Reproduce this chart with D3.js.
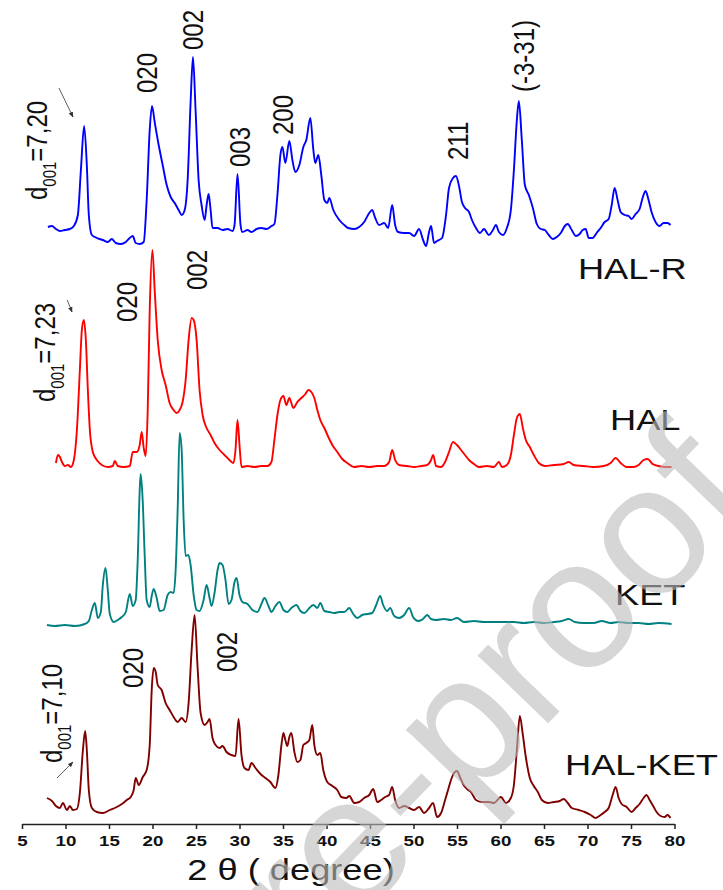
<!DOCTYPE html>
<html>
<head>
<meta charset="utf-8">
<script src="https://cdn.jsdelivr.net/npm/d3@7"></script>
<style>
  body { margin: 0; background: #fff; }
  text { font-family: "Liberation Sans", Arial, sans-serif; }
</style>
</head>
<body>
<div id="chart"></div>
<script>
// XRD patterns, 2θ vs intensity (a.u.), curves stacked with offsets
const thetaTicks = d3.range(5, 81, 5);
const seriesNames = ['HAL-R', 'HAL', 'KET', 'HAL-KET'];
const seriesOffsets = [593, 356, 198, 13];

// [2θ, intensity above own baseline]
const halR = [[7.98,3],[8.44,4],[8.9,1],[9.36,-1],[9.93,0],[10.5,1],[10.96,4],[11.42,15],[11.77,60],[12.14,104],[12.45,65],[12.68,15],[13.03,-5],[13.6,-8],[14.29,-10],[14.86,-12],[15.32,-9],[15.78,-13],[16.35,-14],[16.93,-12],[17.38,-8],[17.73,-6],[18.07,-13],[18.53,-14],[18.99,-12],[19.33,30],[19.68,100],[19.94,124],[20.25,108],[20.71,85],[21.17,65],[21.63,45],[22.09,33],[22.55,27],[23.0,20],[23.35,15],[23.7,20],[24.04,50],[24.39,130],[24.65,173],[24.95,120],[25.3,50],[25.64,25],[25.99,10],[26.22,25],[26.45,36],[26.68,20],[26.9,2],[27.48,2],[28.05,0],[28.62,1],[29.2,-1],[29.43,5],[29.77,56],[30.12,5],[30.34,-2],[30.92,0],[31.38,-2],[31.95,1],[32.52,2],[33.1,1],[33.67,4],[34.01,6],[34.36,35],[34.7,75],[34.93,83],[35.27,67],[35.73,89],[36.08,70],[36.42,58],[36.88,65],[37.34,83],[37.68,90],[38.14,112],[38.49,80],[38.71,67],[39.06,75],[39.4,55],[39.75,30],[40.09,27],[40.32,32],[40.78,20],[41.47,10],[42.04,5],[42.5,2],[43.19,1],[43.76,3],[44.33,8],[44.91,17],[45.25,20],[45.6,12],[46.05,5],[46.63,7],[47.09,2],[47.55,25],[47.89,5],[48.23,-2],[48.92,-3],[49.5,-3],[50.07,-6],[50.64,1],[51.1,-10],[51.45,-16],[51.79,-2],[52.02,4],[52.36,-13],[52.71,-11],[53.28,-8],[53.74,15],[54.08,42],[54.54,52],[54.88,54],[55.23,44],[55.57,28],[55.92,22],[56.38,18],[56.72,10],[57.18,2],[57.64,-3],[58.1,1],[58.67,-5],[59.13,0],[59.47,5],[59.82,-2],[60.28,-5],[60.73,2],[61.19,20],[61.54,60],[61.88,110],[62.11,129],[62.45,90],[62.8,45],[63.26,35],[63.72,22],[64.17,6],[64.63,1],[65.09,0],[65.55,-5],[66.0,-9],[66.47,-7],[66.93,-3],[67.39,4],[67.73,6],[68.19,0],[68.65,-6],[69.1,-4],[69.45,0],[69.79,1],[70.14,-8],[70.6,-8],[71.05,-3],[71.51,2],[71.97,8],[72.43,11],[72.78,25],[73.12,42],[73.46,30],[73.81,18],[74.27,15],[74.73,14],[75.07,11],[75.53,16],[75.99,21],[76.33,32],[76.68,39],[77.02,30],[77.36,18],[77.82,8],[78.28,4],[78.74,7],[79.2,7],[79.54,5]];

const hal = [[8.9,4],[9.13,12],[9.36,10],[9.59,5],[9.93,1],[10.28,2],[10.62,0],[10.96,7],[11.31,37],[11.65,97],[11.88,137],[12.11,147],[12.34,127],[12.57,77],[12.8,37],[13.14,15],[13.6,7],[14.17,2],[14.86,0],[15.44,1],[15.67,6],[16.01,1],[16.7,0],[17.39,1],[17.73,15],[18.19,15],[18.53,22],[18.76,35],[18.99,19],[19.22,11],[19.45,57],[19.68,157],[19.99,217],[20.25,177],[20.6,127],[21.05,97],[21.51,82],[21.97,64],[22.43,57],[22.77,54],[23.12,57],[23.46,65],[23.81,87],[24.15,127],[24.5,149],[24.73,147],[25.07,127],[25.41,77],[25.76,52],[26.22,39],[26.68,32],[27.13,24],[27.71,17],[28.28,12],[28.85,7],[29.31,4],[29.54,17],[29.77,47],[30.0,22],[30.23,0],[30.92,1],[31.72,0],[32.52,1],[33.21,1],[33.67,5],[34.01,27],[34.36,52],[34.7,67],[35.05,71],[35.39,62],[35.73,69],[36.19,59],[36.65,65],[37.11,69],[37.57,73],[37.91,77],[38.26,75],[38.6,69],[38.95,57],[39.29,47],[39.75,39],[40.21,30],[40.67,22],[41.24,15],[41.81,8],[42.39,4],[43.19,0],[43.99,1],[44.91,0],[45.83,1],[46.63,1],[47.2,5],[47.55,17],[47.89,7],[48.35,2],[49.27,1],[50.07,0],[50.87,1],[51.56,2],[52.02,7],[52.25,12],[52.6,1],[53.17,0],[53.63,5],[54.08,15],[54.54,25],[55.0,22],[55.46,17],[55.92,12],[56.38,7],[56.95,3],[57.52,0],[58.44,1],[59.24,0],[59.82,5],[60.16,0],[60.73,2],[61.19,12],[61.54,32],[61.88,49],[62.22,53],[62.57,39],[62.91,27],[63.37,20],[63.83,12],[64.4,4],[65.09,1],[66.12,2],[67.27,3],[67.84,5],[68.42,2],[69.56,1],[70.71,0],[71.86,1],[72.66,4],[73.23,9],[73.81,4],[74.5,0],[75.3,0],[75.87,2],[76.45,7],[76.91,8],[77.48,3],[78.17,1],[78.86,0],[79.66,0]];

const ket = [[7.87,0],[8.78,-1],[9.93,0],[11.08,-1],[12.22,1],[12.68,4],[13.03,15],[13.37,22],[13.72,7],[14.06,13],[14.29,40],[14.6,57],[14.86,35],[15.09,11],[15.55,3],[16.01,5],[16.47,8],[16.93,13],[17.39,31],[17.73,19],[18.07,25],[18.3,65],[18.53,135],[18.64,151],[18.87,125],[19.1,70],[19.33,25],[19.68,18],[19.91,29],[20.14,36],[20.48,27],[20.83,14],[21.28,15],[21.74,30],[22.09,33],[22.43,32],[22.66,55],[22.89,115],[23.12,192],[23.35,175],[23.58,105],[23.81,69],[24.12,70],[24.38,60],[24.73,30],[25.07,15],[25.41,14],[25.87,25],[26.22,40],[26.56,27],[26.79,19],[27.13,32],[27.48,55],[27.71,62],[28.05,60],[28.39,45],[28.74,21],[29.08,25],[29.43,43],[29.66,47],[30.0,30],[30.34,23],[30.92,21],[31.49,15],[32.06,13],[32.52,21],[32.87,27],[33.33,19],[33.67,13],[34.13,19],[34.59,23],[35.05,15],[35.5,13],[35.96,17],[36.54,20],[37.0,14],[37.45,12],[38.03,17],[38.49,20],[38.95,17],[39.29,22],[39.75,14],[40.32,13],[40.89,12],[41.47,13],[42.04,13],[42.62,17],[43.07,11],[43.53,7],[44.1,10],[44.68,11],[45.25,12],[45.71,20],[46.17,29],[46.51,20],[46.97,14],[47.32,17],[47.78,9],[48.35,7],[48.92,10],[49.5,17],[49.95,8],[50.53,4],[51.1,6],[51.56,10],[52.02,6],[52.59,5],[53.51,6],[54.31,5],[55.0,7],[55.8,3],[56.95,4],[58.1,3],[59.24,3],[60.39,3],[61.54,3],[62.68,2],[63.83,3],[64.98,2],[66.12,3],[67.04,4],[67.84,6],[68.53,3],[69.56,2],[70.71,2],[71.63,4],[72.66,2],[73.58,3],[74.73,2],[75.87,2],[77.02,1],[78.17,2],[79.66,1]];

const halKet = [[7.87,12],[8.44,9],[8.9,4],[9.36,2],[9.7,7],[10.16,0],[10.5,4],[10.85,0],[11.31,1],[11.65,17],[12.0,60],[12.26,79],[12.45,60],[12.68,20],[13.03,2],[13.6,-2],[14.29,-3],[15.09,0],[15.89,3],[16.47,6],[17.04,10],[17.5,13],[17.84,20],[18.07,32],[18.42,25],[18.88,33],[19.33,40],[19.68,65],[19.91,120],[20.14,142],[20.37,138],[20.6,125],[21.05,120],[21.51,107],[21.97,100],[22.43,93],[22.89,88],[23.35,92],[23.81,88],[24.15,107],[24.5,160],[24.84,195],[25.18,143],[25.53,97],[25.99,85],[26.33,88],[26.56,91],[26.9,72],[27.25,65],[27.71,62],[28.05,64],[28.51,58],[29.08,55],[29.54,54],[29.89,91],[30.23,55],[30.57,42],[31.03,40],[31.38,47],[31.84,42],[32.41,36],[32.98,32],[33.55,28],[34.13,22],[34.47,35],[34.82,65],[35.05,77],[35.27,70],[35.5,64],[35.73,73],[35.96,77],[36.31,58],[36.65,48],[37.0,50],[37.34,65],[37.68,67],[38.03,70],[38.37,85],[38.6,65],[38.95,55],[39.29,57],[39.63,40],[40.09,28],[40.67,24],[41.24,20],[41.7,13],[42.27,12],[42.62,14],[43.19,7],[43.76,8],[44.33,12],[44.91,15],[45.37,21],[45.83,8],[46.28,10],[46.74,13],[47.2,15],[47.55,23],[47.89,10],[48.35,2],[48.92,4],[49.5,2],[50.07,0],[50.64,3],[51.22,-3],[51.79,2],[52.25,7],[52.71,-7],[53.17,-3],[53.63,10],[53.97,20],[54.31,30],[54.66,37],[55.0,39],[55.34,33],[55.69,26],[56.15,21],[56.61,18],[57.18,10],[57.87,8],[58.67,8],[59.24,7],[60.05,13],[60.62,7],[61.19,12],[61.54,25],[61.88,60],[62.22,94],[62.57,75],[62.91,53],[63.37,32],[63.83,24],[64.29,18],[64.75,10],[65.44,7],[66.12,8],[66.81,9],[67.27,11],[67.73,7],[68.19,2],[68.99,0],[69.68,-2],[70.37,-5],[70.94,-8],[71.51,-5],[71.97,-2],[72.43,2],[72.89,15],[73.23,23],[73.58,12],[73.92,6],[74.5,3],[75.07,-2],[75.53,2],[75.99,6],[76.45,12],[76.79,15],[77.14,10],[77.48,5],[77.94,-2],[78.4,-6],[78.86,-7],[79.2,-5],[79.54,-8]];

const seriesData = [halR, hal, ket, halKet];

// peak / d-spacing annotations (2θ, stacked intensity)
const peakLabels = [
  { t: 20.52, v: 730, text: '020' }, { t: 25.8, v: 773, text: '002' },
  { t: 31.2, v: 656, text: '003' }, { t: 36.15, v: 688, text: '200' },
  { t: 56.26, v: 663, text: '211' }, { t: 63.85, v: 731, text: '(-3-31)' },
  { t: 18.22, v: 501, text: '020' }, { t: 26.26, v: 533, text: '002' },
  { t: 18.9, v: 135, text: '020' }, { t: 29.71, v: 151, text: '002' }
];
const dLabels = [
  { t: 7.87, v: 623, value: '7,20' },
  { t: 8.79, v: 421, value: '7,23' },
  { t: 9.6, v: 60, value: '7,10' }
];
const arrows = [
  { t0: 9.25, v0: 735, t1: 10.86, v1: 706 },
  { t0: 10.2, v0: 523, t1: 10.75, v1: 511 },
  { t0: 9.02, v0: 45, t1: 10.86, v1: 61 }
];
const nameLabels = [
  { t: 68.9, v: 544 }, { t: 72.59, v: 393 }, { t: 73.16, v: 218 }, { t: 67.41, v: 48 }
];

const W = 723, H = 890;
const colors = ['#0000ff', '#ff0000', '#008080', '#800000'];
const sx = 1.25; // the figure is stretched horizontally

const svg = d3.select('#chart').append('svg')
  .attr('width', W).attr('height', H);

const x = d3.scaleLinear().domain([5, 80]).range([22, 674.5]);
const y = d3.scaleLinear().domain([0, 823]).range([823, 0]);

svg.append('defs').append('marker')
  .attr('id', 'head')
  .attr('viewBox', '0 0 10 10')
  .attr('refX', 9).attr('refY', 5)
  .attr('markerWidth', 7).attr('markerHeight', 7)
  .attr('orient', 'auto')
  .append('path').attr('d', 'M0,1 L10,5 L0,9 Z').attr('fill', '#333');

// curves
seriesData.forEach((data, i) => {
  const line = d3.line()
    .x(d => x(d[0]))
    .y(d => y(seriesOffsets[i] + d[1]))
    .curve(d3.curveMonotoneX);
  svg.append('path')
    .datum(data)
    .attr('fill', 'none')
    .attr('stroke', colors[i])
    .attr('stroke-width', 1.9)
    .attr('stroke-linejoin', 'round')
    .attr('d', line);
});

// x axis
const axis = svg.append('g')
  .attr('transform', `translate(0,${y(0) + 1})`)
  .call(d3.axisBottom(x).tickValues(thetaTicks).tickSize(5).tickSizeOuter(0).tickPadding(6));
axis.select('.domain').attr('stroke', '#222').attr('stroke-width', 1.5);
axis.selectAll('.tick line').attr('stroke', '#222').attr('stroke-width', 1.5);
axis.selectAll('.tick text')
  .attr('font-family', '"Liberation Sans", Arial, sans-serif')
  .attr('font-size', 15).attr('font-weight', 'bold').attr('fill', '#111')
  .attr('transform', `scale(${sx},1)`);

svg.append('text')
  .attr('transform', `translate(291,880) scale(${sx},1)`)
  .attr('text-anchor', 'middle')
  .attr('font-size', 29).attr('fill', '#111')
  .text('2 θ ( degree)');

// rotated peak labels
peakLabels.forEach(l => {
  svg.append('text')
    .attr('transform', `translate(${x(l.t)},${y(l.v)}) scale(${sx},1) rotate(-90)`)
    .attr('font-size', 24).attr('fill', '#111')
    .text(l.text);
});

dLabels.forEach(l => {
  const t = svg.append('text')
    .attr('transform', `translate(${x(l.t)},${y(l.v)}) scale(${sx},1) rotate(-90)`)
    .attr('font-size', 24).attr('fill', '#111');
  t.append('tspan').text('d');
  t.append('tspan').attr('font-size', 15).attr('dy', 7).text('001');
  t.append('tspan').attr('dy', -7).text('=' + l.value);
});

arrows.forEach(a => {
  svg.append('line')
    .attr('x1', x(a.t0)).attr('y1', y(a.v0))
    .attr('x2', x(a.t1)).attr('y2', y(a.v1))
    .attr('stroke', '#333').attr('stroke-width', 0.8)
    .attr('marker-end', 'url(#head)');
});

nameLabels.forEach((l, i) => {
  svg.append('text')
    .attr('transform', `translate(${x(l.t)},${y(l.v)}) scale(${sx},1)`)
    .attr('font-size', 29).attr('fill', '#111')
    .text(seriesNames[i]);
});

// journal watermark
const wm = svg.append('g')
  .attr('transform', 'translate(225,1058) rotate(-46)')
  .attr('font-size', 185).attr('fill', '#bbbbbb').attr('opacity', 0.6);
wm.append('text').attr('text-anchor', 'end').text('Journal ');
wm.append('text').attr('text-anchor', 'start').text('Pre-proof');
</script>
</body>
</html>
